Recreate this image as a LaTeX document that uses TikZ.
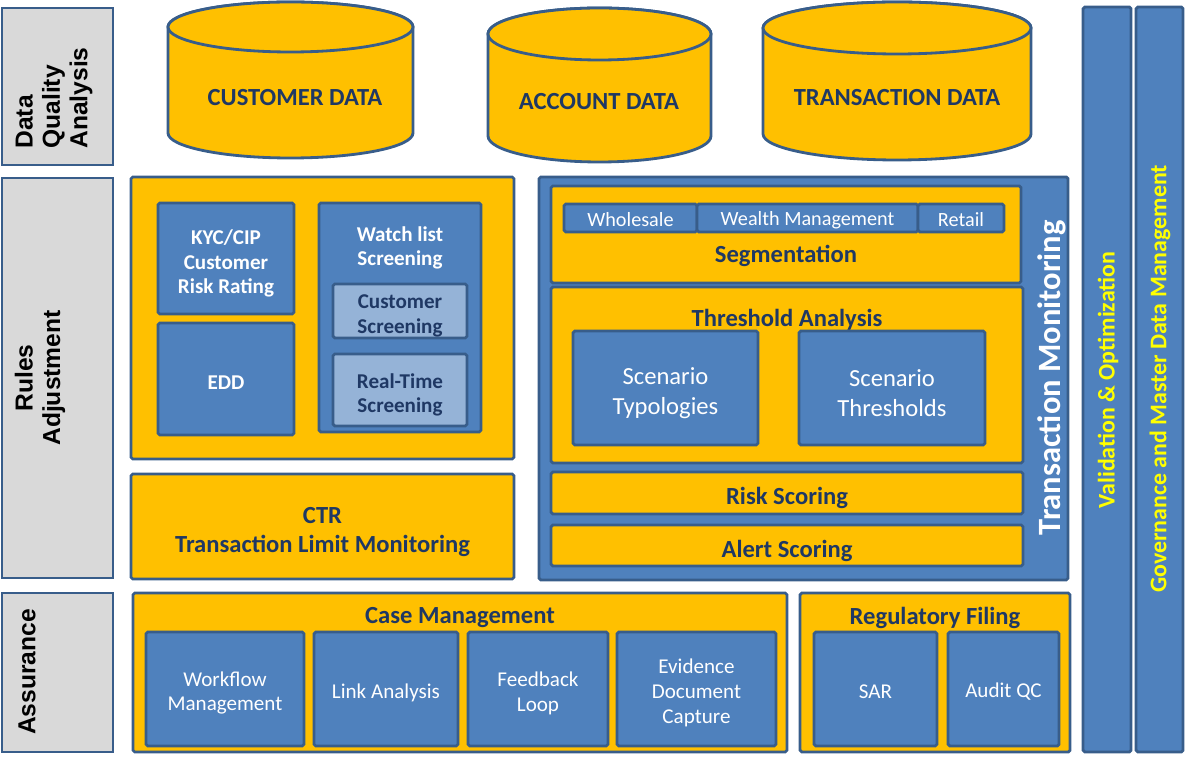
\documentclass[tikz,border=0pt]{standalone}
\usepackage{fontspec}
\setmainfont{Carlito}
\newfontfamily\arialfont{Liberation Sans}
\definecolor{bxyellow}{HTML}{FFC000}
\definecolor{bxblue}{HTML}{4F81BD}
\definecolor{bxedge}{HTML}{385D8A}
\definecolor{bxlight}{HTML}{95B3D7}
\definecolor{bxtext}{HTML}{1F3864}
\definecolor{bxgray}{HTML}{D9D9D9}
\definecolor{bxlabel}{HTML}{FFFF00}
\begin{document}
\begin{tikzpicture}[x=0.02cm,y=-0.02cm,
  sz/.style 2 args={minimum width=#1*0.02cm,minimum height=#2*0.02cm},
  ybox/.style={draw=bxedge,fill=bxyellow,line width=1.6pt,inner sep=0pt,rounded corners=1pt},
  bbox/.style={draw=bxedge,fill=bxblue,line width=1.6pt,inner sep=0pt,rounded corners=1pt},
  lbox/.style={bbox,fill=bxlight},
  gbox/.style={draw=bxedge,fill=bxgray,line width=0.8pt,inner sep=0pt},
  glabel/.style={rotate=90,align=center,font=\arialfont\bfseries\fontsize{14}{15.6}\selectfont},
  ttl/.style={text=bxtext,align=center,font=\bfseries\fontsize{14}{16.6}\selectfont},
  sttl/.style={text=bxtext,align=center,font=\bfseries\fontsize{12}{13.9}\selectfont},
  wbold/.style={text=white,align=center,font=\bfseries\fontsize{12}{13.9}\selectfont},
  wtxt/.style={text=white,align=center,font=\fontsize{12}{14.2}\selectfont},
  wbig/.style={text=white,align=center,font=\fontsize{14}{17}\selectfont},
  wsmall/.style={text=white,font=\fontsize{11.5}{13}\selectfont},
  down/.style={yshift=-#1*0.02cm},
  cyl/.style={draw=bxedge,fill=bxyellow,line width=1.6pt},
  vlabel/.style={rotate=90,text=bxlabel,font=\bfseries\fontsize{13.6}{16}\selectfont}]
\useasboundingbox (0,0) rectangle (1186,783);
% layer labels
\node[gbox,sz={111}{157}](G1) at (57.5,86.5){};
\node[glabel,align=left](G1T) at (54,98){Data\\Quality\\Analysis};
\node[gbox,sz={111}{400}](G2) at (57.5,378){};
\node[glabel](G2T) at (40,378){Rules\\Adjustment};
\node[gbox,sz={111}{159}](G3) at (57.5,672.5){};
\node[glabel](G3T) at (27,672){Assurance};
% data stores
\filldraw[cyl] (168,27) -- (168,133) arc[start angle=180,end angle=0,x radius=122.5,y radius=25]
  -- (413,27) arc[start angle=0,end angle=-180,x radius=122.5,y radius=25] -- cycle;
\draw[cyl] (290.5,27) ellipse[x radius=122.5,y radius=25];
\node[ttl](CD) at (295,98){CUSTOMER DATA};
\filldraw[cyl] (488,34) -- (488,136) arc[start angle=180,end angle=0,x radius=111.5,y radius=26]
  -- (711,34) arc[start angle=0,end angle=-180,x radius=111.5,y radius=26] -- cycle;
\draw[cyl] (599.5,34) ellipse[x radius=111.5,y radius=26];
\node[ttl](AD) at (599,102){ACCOUNT DATA};
\filldraw[cyl] (763,28) -- (763,134) arc[start angle=180,end angle=0,x radius=134,y radius=26]
  -- (1031,28) arc[start angle=0,end angle=-180,x radius=134,y radius=26] -- cycle;
\draw[cyl] (897,28) ellipse[x radius=134,y radius=26];
\node[ttl](TD) at (897,98){TRANSACTION DATA};
% screening
\node[ybox,sz={383}{282}](SCR) at (322.5,318){};
\node[bbox,sz={136}{111}](KYC) at (226,258.5){};
\node[wbold,down=5](KYCT) at (KYC){KYC/CIP\\Customer\\Risk Rating};
\node[bbox,sz={136}{112}](EDD) at (226,379){};
\node[wbold,down=4](EDDT) at (EDD){EDD};
\node[bbox,sz={162}{229}](WL) at (400,317.5){};
\node[wbold](WLT) at (400,248){Watch list\\Screening};
\node[lbox,sz={134}{54}](CS) at (400,311){};
\node[sttl](CST) at (400,316){Customer\\Screening};
\node[lbox,sz={134}{72}](RTS) at (400,390){};
\node[sttl](RTST) at (400,395){Real-Time\\Screening};
\node[ybox,sz={383}{105}](CTR) at (322.5,526.5){};
\node[ttl](CTRT) at (322.5,532){CTR\\Transaction Limit Monitoring};
% transaction monitoring
\node[bbox,sz={529}{403}](TM) at (803.5,378.5){};
\node[rotate=90,text=white,font=\bfseries\fontsize{18.5}{22}\selectfont](TMT) at (1052,378){Transaction Monitoring};
\node[ybox,sz={470}{97}](SEG) at (786,234.5){};
\node[bbox,sz={133}{28}](WS) at (630.5,218){};
\node[wsmall,down=2](WST) at (WS){Wholesale};
\node[bbox,sz={221}{28}](WM) at (807.5,218){};
\node[wsmall,down=2](WMT) at (WM){Wealth Management};
\node[bbox,sz={86}{28}](RT) at (961,218){};
\node[wsmall,down=2](RTT) at (RT){Retail};
\node[ttl](SEGT) at (786,256){Segmentation};
\node[ybox,sz={472}{176}](THR) at (787,375){};
\node[ttl](THRT) at (787,320){Threshold Analysis};
\node[bbox,sz={185}{114}](ST) at (665.5,388){};
\node[wbig,down=5](STT) at (ST){Scenario\\Typologies};
\node[bbox,sz={186}{114}](SH) at (892,388){};
\node[wbig,down=5](SHT) at (SH){Scenario\\Thresholds};
\node[ybox,sz={472}{42}](RS) at (787,493){};
\node[ttl,down=5](RST) at (RS){Risk Scoring};
\node[ybox,sz={472}{41}](AS) at (787,545.5){};
\node[ttl,down=5](AST) at (AS){Alert Scoring};
% cross-cutting bars
\node[bbox,sz={48}{745}](VO) at (1107,379.5){};
\node[vlabel](VOT) at (1108,380){Validation \& Optimization};
\node[bbox,sz={47}{745}](GM) at (1159.5,379.5){};
\node[vlabel](GMT) at (1160,379){Governance and Master Data Management};
% assurance
\node[ybox,sz={654}{159}](CM) at (460,672.5){};
\node[ttl](CMT) at (460,618){Case Management};
\node[bbox,sz={158}{114}](WF) at (225,689){};
\node[wtxt,down=4](WFT) at (WF){Workflow\\Management};
\node[bbox,sz={144}{114}](LA) at (386,689){};
\node[wtxt,down=4](LAT) at (LA){Link Analysis};
\node[bbox,sz={140}{114}](FL) at (538,689){};
\node[wtxt,down=4](FLT) at (FL){Feedback\\Loop};
\node[bbox,sz={159}{114}](ED) at (696.5,689){};
\node[wtxt,down=4](EDT) at (ED){Evidence\\Document\\Capture};
\node[ybox,sz={270}{159}](RF) at (935,672.5){};
\node[ttl](RFT) at (935,618){Regulatory Filing};
\node[bbox,sz={123}{114}](SAR) at (875.5,689){};
\node[wtxt,down=3](SART) at (SAR){SAR};
\node[bbox,sz={111}{114}](AQ) at (1003.5,689){};
\node[wtxt,down=3](AQT) at (AQ){Audit QC};
\end{tikzpicture}
\end{document}
